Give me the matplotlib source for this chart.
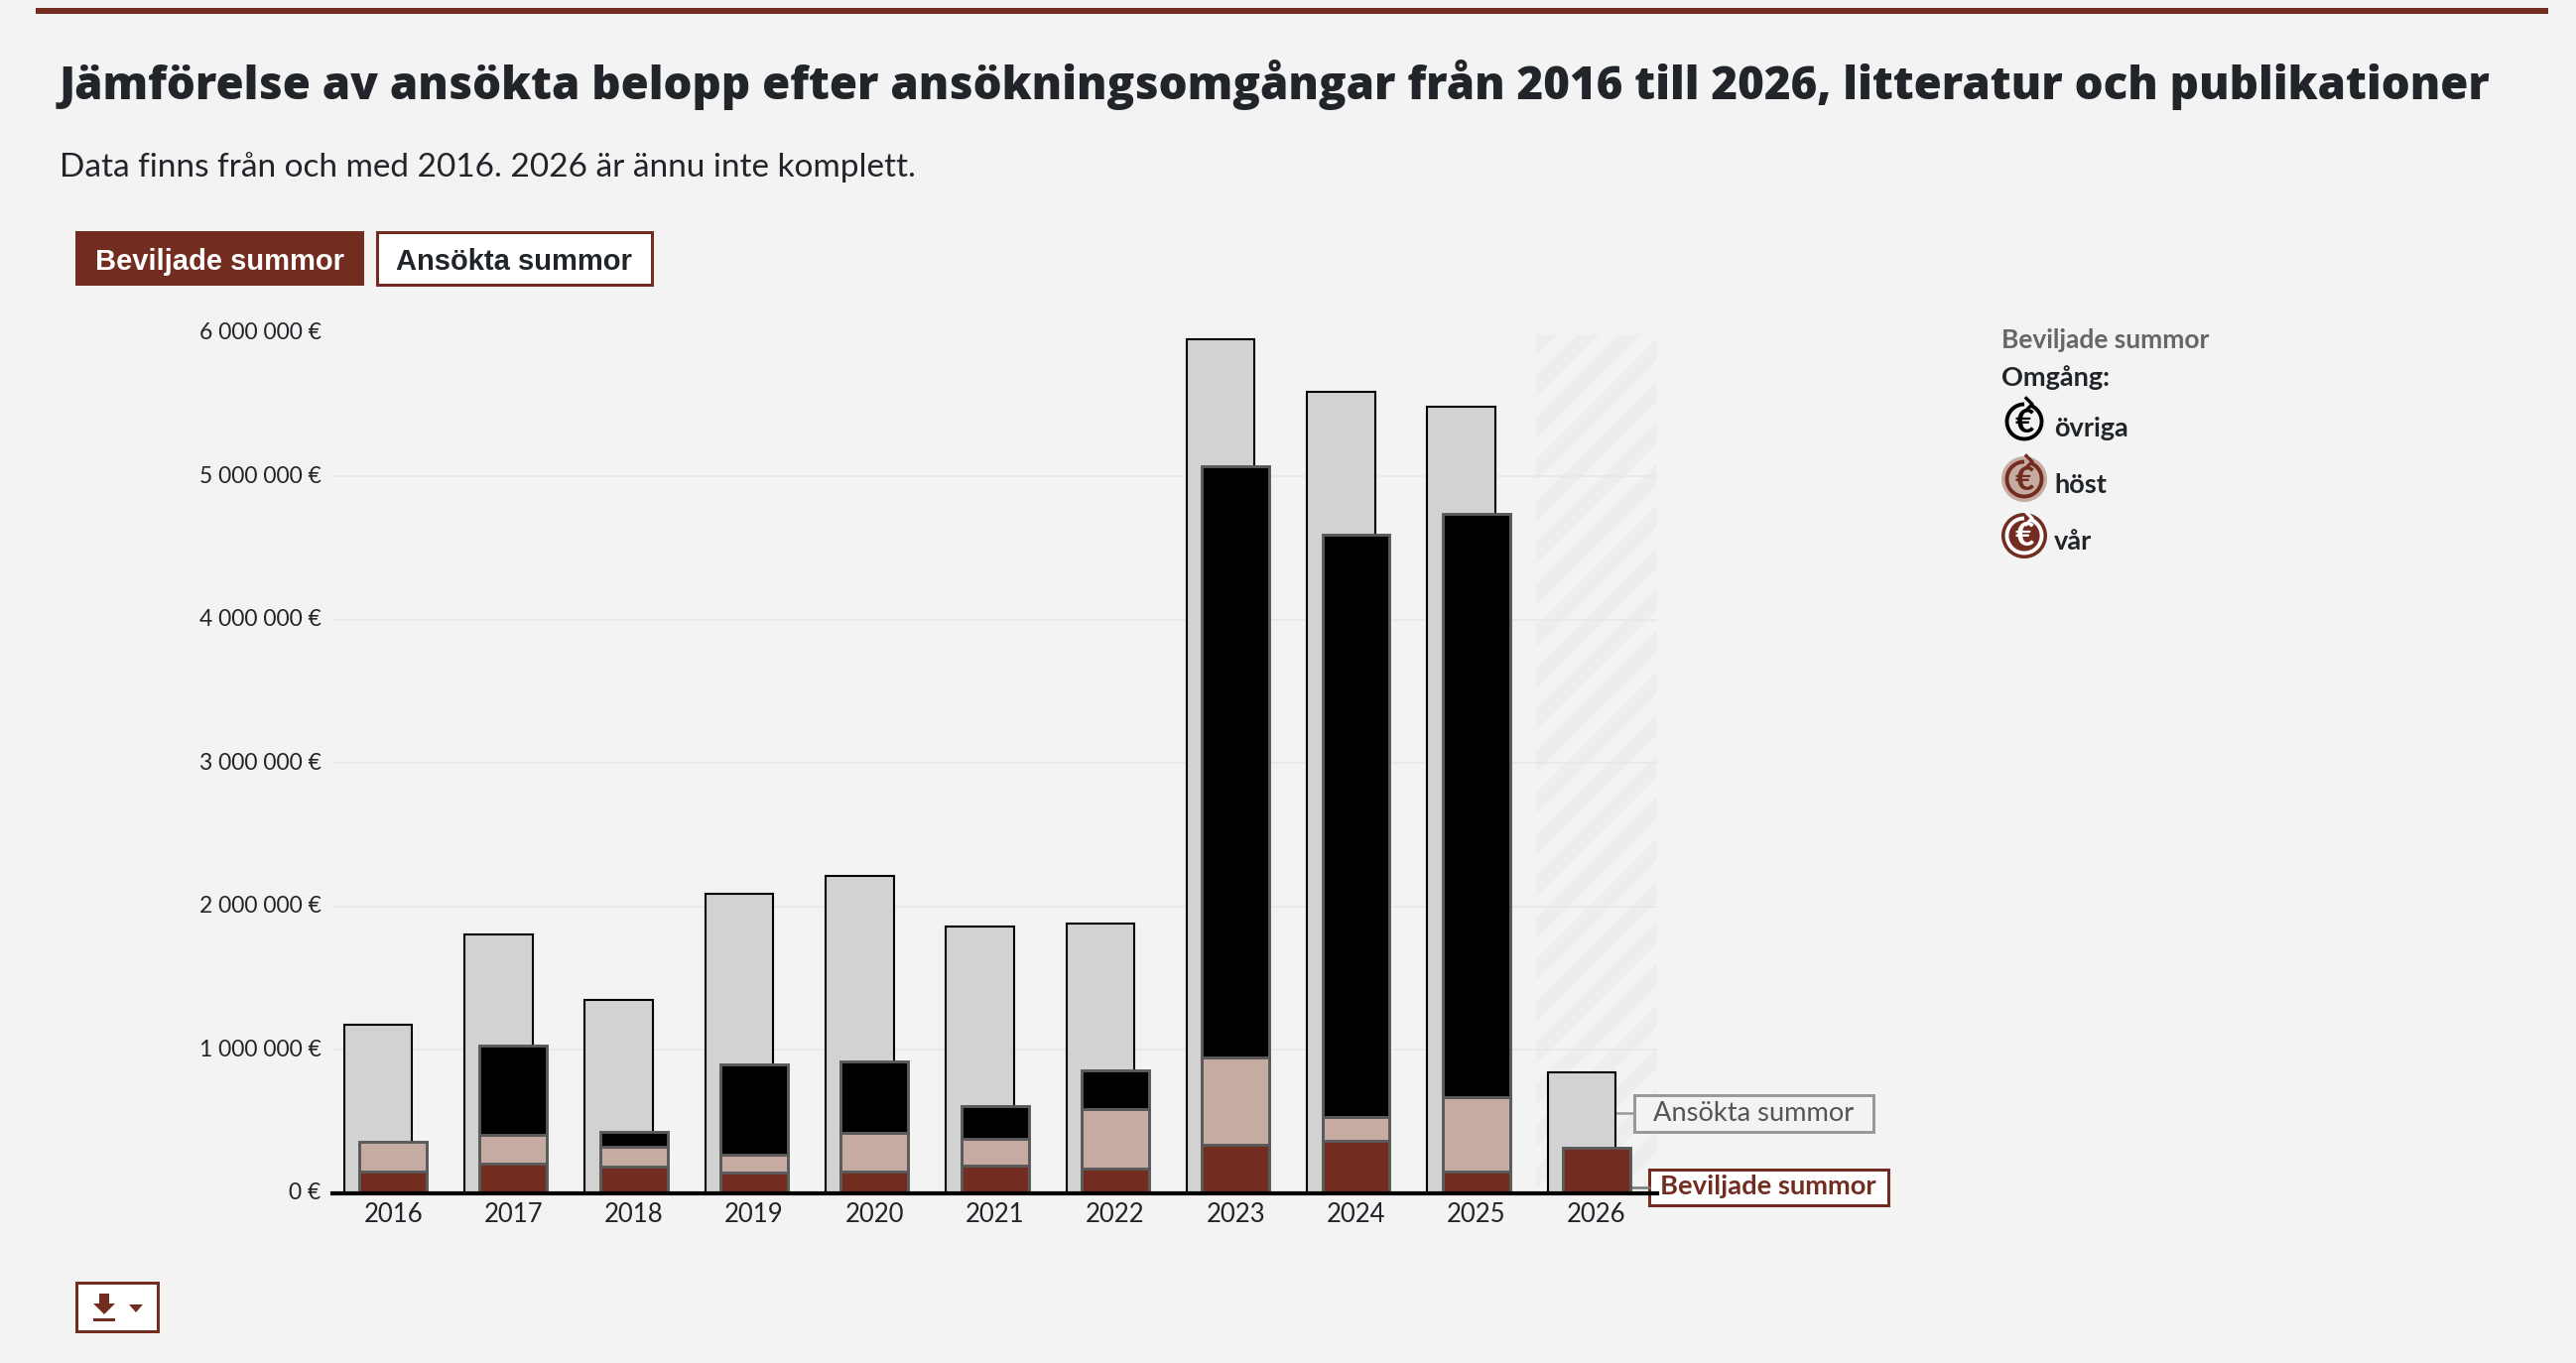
import numpy as np
import matplotlib
matplotlib.use("Agg")
import matplotlib.pyplot as plt
from matplotlib.patches import Circle, Polygon, Rectangle
from matplotlib.transforms import ScaledTranslation

years = ["2016", "2017", "2018", "2019", "2020", "2021", "2022", "2023", "2024", "2025", "2026"]
ansokta = [1177000, 1805000, 1346000, 2090000, 2210000, 1857000, 1880000, 5958000, 5590000, 5487000, 843000]
var = [152000, 203000, 187000, 143000, 150000, 192000, 171000, 337000, 365000, 150000, 319000]
host = [204000, 201000, 134000, 127000, 273000, 189000, 418000, 612000, 166000, 522000, 0]
ovriga = [0, 628000, 104000, 626000, 496000, 226000, 265000, 4120000, 4065000, 4070000, 0]
y_ticks = [0, 1000000, 2000000, 3000000, 4000000, 5000000, 6000000]
y_labels = ["0 €", "1 000 000 €", "2 000 000 €", "3 000 000 €", "4 000 000 €", "5 000 000 €", "6 000 000 €"]

W, H = 2596, 1374
BG = "#f3f3f3"
MAROON = "#722d20"
ROSE = "#c6aba2"
INK = "#212529"
plt.rcParams["font.family"] = ["Lato", "DejaVu Sans"]

fig = plt.figure(figsize=(W / 100, H / 100), dpi=100, facecolor=BG)

# pixel-based layer for the page furniture, sits behind the chart
ui = fig.add_axes([0, 0, 1, 1], zorder=0)
ui.set_xlim(0, W)
ui.set_ylim(H, 0)
ui.axis("off")

L, R, T, B = 335.5, 1669.7, 336.0, 1202.7
ax = fig.add_axes([L / W, 1 - B / H, (R - L) / W, (B - T) / H], zorder=1)
ax.patch.set_alpha(0)


def box(x0, y0, x1, y1, face, edge, lw=3):
    ui.add_patch(Rectangle((x0, y0), x1 - x0, y1 - y0, facecolor=face, edgecolor=edge, linewidth=lw * 0.72))


# header
ui.add_patch(Rectangle((36, 8), 2532, 6, facecolor=MAROON, edgecolor="none"))
ui.text(60, 100, "Jämförelse av ansökta belopp efter ansökningsomgångar från 2016 till 2026, litteratur och publikationer",
        family="Open Sans", fontsize=32.87, fontweight=800, color=INK, va="baseline")
ui.text(60, 178, "Data finns från och med 2016. 2026 är ännu inte komplett.", fontsize=24, color=INK, va="baseline")

# toggle buttons
box(76, 233, 367, 287.5, MAROON, "none", lw=0)
box(380, 234, 657, 287, "white", MAROON)
ui.text(221, 263.5, "Beviljade summor", family="Liberation Sans", fontweight="bold", fontsize=21, color="white", ha="center", va="center")
ui.text(518, 263.5, "Ansökta summor", family="Liberation Sans", fontweight="bold", fontsize=21, color=INK, ha="center", va="center")

# striped band for the incomplete year
band = Rectangle((1548.4, 337), 121.3, 865, facecolor="none", edgecolor="none")
ui.add_patch(band)
for y in np.arange(337, 1340, 42):
    stripe = Polygon([(1548.4, y), (1669.7, y - 121.3), (1669.7, y - 100), (1548.4, y + 21)],
                     facecolor="#ededed", edgecolor="none")
    ui.add_patch(stripe)
    stripe.set_clip_path(band)

# bars
x = np.arange(len(years))
var_arr, host_arr, ovr_arr = np.array(var), np.array(host), np.array(ovriga)
seg = dict(width=0.56, edgecolor="#5a5a5a", linewidth=2.1, zorder=3)
ax.bar(x - 0.124, ansokta, width=0.565, color="#d2d2d2", edgecolor="black", linewidth=1.5, zorder=2)
ax.bar(x, var_arr, color=MAROON, **seg)
ax.bar(x[host_arr > 0], host_arr[host_arr > 0], bottom=var_arr[host_arr > 0], color=ROSE, **seg)
ax.bar(x[ovr_arr > 0], ovr_arr[ovr_arr > 0], bottom=(var_arr + host_arr)[ovr_arr > 0], color="black", **seg)

ax.set_xlim(-0.5, 10.5)
ax.set_ylim(0, 6000000)
ax.set_xticks(x, years, fontsize=18.5, color=INK)
ax.set_yticks(y_ticks, y_labels, fontsize=16.5, color=INK)
ax.tick_params(axis="both", length=0)
ax.tick_params(axis="x", pad=7)
ax.tick_params(axis="y", pad=8.5)
ax.set_axisbelow(True)
ax.yaxis.grid(True, color="#e6e6e6", linewidth=1.1)
ax.yaxis.get_gridlines()[-1].set_visible(False)
for label in ax.get_yticklabels():
    label.set_transform(label.get_transform() + ScaledTranslation(0, 0.02, fig.dpi_scale_trans))
for side in ["top", "left", "right"]:
    ax.spines[side].set_visible(False)
ax.spines["bottom"].set_linewidth(3)
ax.spines["bottom"].set_color("black")
ax.spines["bottom"].set_zorder(5)

# callouts next to the last bar
ui.plot([1628.7, 1647], [1122, 1122], color="#999999", lw=1.8)
box(1647, 1104, 1888, 1140.5, BG, "#999999")
ui.text(1767.5, 1122.5, "Ansökta summor", fontsize=19.6, color="#555555", ha="center", va="center")
ui.plot([1642.7, 1662], [1196.7, 1196.7], color="#777777", lw=1.8)
box(1661.7, 1179, 1902.7, 1215, "white", MAROON)
ui.text(1782, 1196.5, "Beviljade summor", fontsize=19.7, fontweight="bold", color=MAROON, ha="center", va="center")


def round_icon(cx, cy, disc, fg):
    if disc is not None:
        ui.add_patch(Circle((cx, cy), 23, facecolor=disc, edgecolor="none"))
    # ring with a small gap, closed off by an arrow head at the top
    t = np.radians(np.linspace(90, 432, 80))
    ui.plot(cx + 17.5 * np.cos(t), cy - 17.5 * np.sin(t), color=fg, lw=2.8, solid_capstyle="butt")
    ui.plot([cx + 2, cx + 8, cx + 2], [cy - 23.5, cy - 17.5, cy - 11.5], color=fg, lw=2.4)
    ui.text(cx, cy + 1, "€", fontsize=24, fontweight="black", color=fg, ha="center", va="center")


# legend
ui.text(2017, 343, "Beviljade summor", fontsize=19, fontweight="bold", color="#666666", va="center")
ui.text(2017, 381, "Omgång:", fontsize=19.5, fontweight="bold", color=INK, va="center")
round_icon(2040, 425, None, "black")
round_icon(2040, 483, ROSE, MAROON)
round_icon(2040, 540, MAROON, "white")
ui.text(2070, 432, "övriga", fontsize=19.5, fontweight="bold", color=INK, va="center")
ui.text(2070, 489, "höst", fontsize=19.5, fontweight="bold", color=INK, va="center")
ui.text(2070, 546, "vår", fontsize=19.5, fontweight="bold", color=INK, va="center")

# download button
box(76.5, 1293, 159, 1342, "white", MAROON)
ui.add_patch(Polygon([(100, 1304), (110, 1304), (110, 1314), (116, 1314), (105, 1325), (94, 1314), (100, 1314)],
                     facecolor=MAROON, edgecolor="none"))
ui.add_patch(Rectangle((94, 1329), 22, 3, facecolor=MAROON, edgecolor="none"))
ui.add_patch(Polygon([(130, 1315), (144, 1315), (137, 1323)], facecolor=MAROON, edgecolor="none"))

fig.savefig("out.png", dpi=100, facecolor=BG)
